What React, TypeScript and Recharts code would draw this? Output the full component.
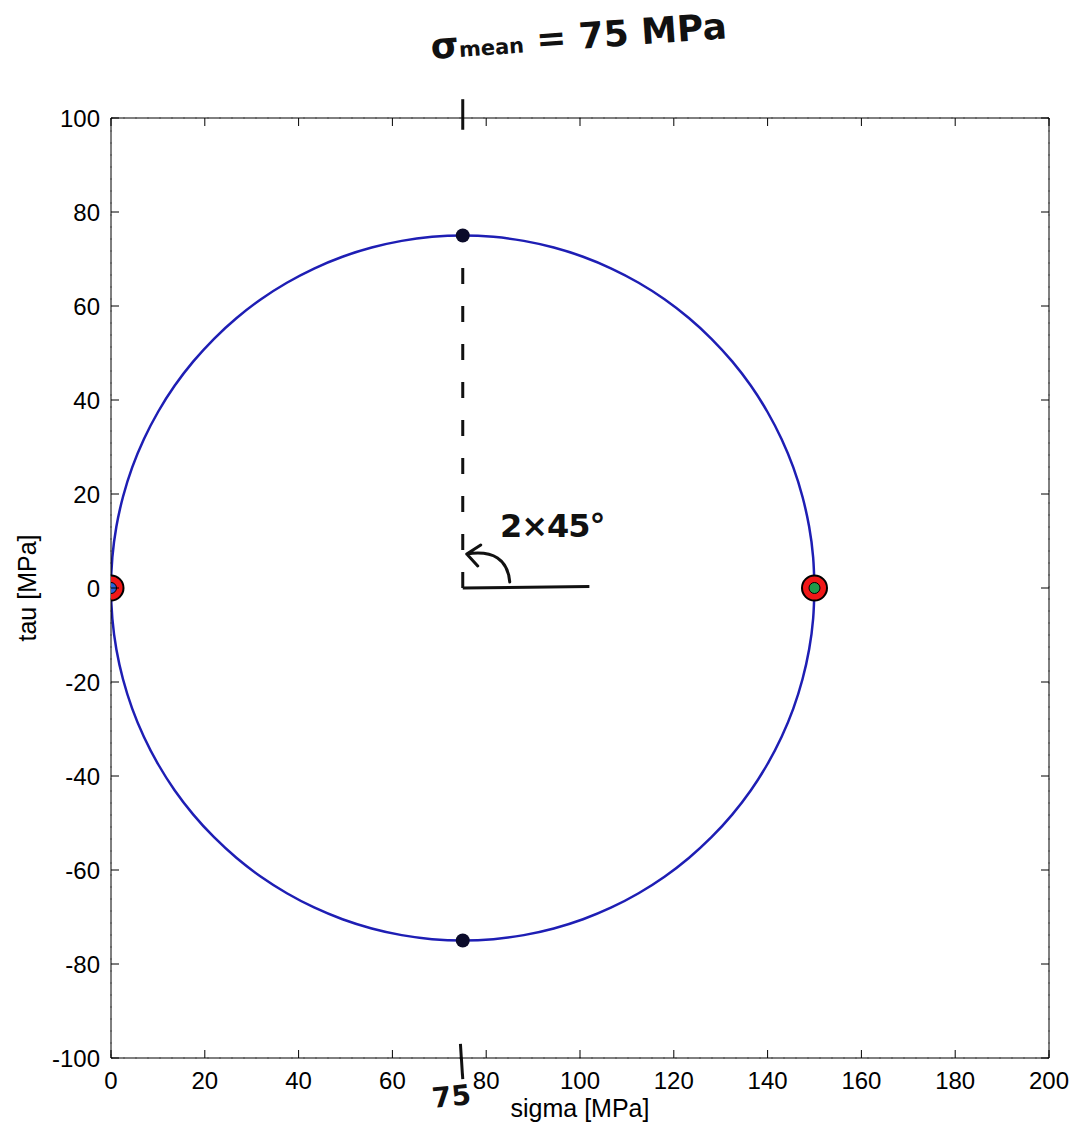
import React from "react";
import {
  ComposedChart,
  Scatter,
  Line,
  XAxis,
  YAxis,
  CartesianGrid,
  ReferenceLine,
  ReferenceDot,
} from "recharts";

// axis ticks
const sigmaTicks = [0, 20, 40, 60, 80, 100, 120, 140, 160, 180, 200];
const tauTicks = [-100, -80, -60, -40, -20, 0, 20, 40, 60, 80, 100];

// Mohr circle, read every 5 degrees round the centre (75, 0), radius 75
const circleSigma = [
  150, 149.71, 148.86, 147.44, 145.48, 142.97, 139.95, 136.44, 132.45, 128.03,
  123.21, 118.02, 112.5, 106.7, 100.65, 94.41, 88.02, 81.54, 75,
  68.46, 61.98, 55.59, 49.35, 43.3, 37.5, 31.98, 26.79, 21.97, 17.55,
  13.56, 10.05, 7.03, 4.52, 2.56, 1.14, 0.29, 0,
  0.29, 1.14, 2.56, 4.52, 7.03, 10.05, 13.56, 17.55, 21.97, 26.79,
  31.98, 37.5, 43.3, 49.35, 55.59, 61.98, 68.46, 75,
  81.54, 88.02, 94.41, 100.65, 106.7, 112.5, 118.02, 123.21, 128.03, 132.45,
  136.44, 139.95, 142.97, 145.48, 147.44, 148.86, 149.71, 150,
];
const circleTau = [
  0, 6.54, 13.02, 19.41, 25.65, 31.7, 37.5, 43.02, 48.21, 53.03,
  57.45, 61.44, 64.95, 67.97, 70.48, 72.44, 73.86, 74.71, 75,
  74.71, 73.86, 72.44, 70.48, 67.97, 64.95, 61.44, 57.45, 53.03, 48.21,
  43.02, 37.5, 31.7, 25.65, 19.41, 13.02, 6.54, 0,
  -6.54, -13.02, -19.41, -25.65, -31.7, -37.5, -43.02, -48.21, -53.03, -57.45,
  -61.44, -64.95, -67.97, -70.48, -72.44, -73.86, -74.71, -75,
  -74.71, -73.86, -72.44, -70.48, -67.97, -64.95, -61.44, -57.45, -53.03, -48.21,
  -43.02, -37.5, -31.7, -25.65, -19.41, -13.02, -6.54, 0,
];

// principal stresses and max shear points
const principalSigma = [0, 150];
const principalTau = [0, 0];
const principalCore = ["#2a63d8", "#1f9a4a"];
const shearSigma = [75, 75];
const shearTau = [75, -75];

// hand-drawn marks
const meanSigma = 75;
const dashTop = 69;
const armEnd = 102;

const circleData = circleSigma.map((s, i) => ({ sigma: s, tau: circleTau[i] }));
const principalData = principalSigma.map((s, i) => ({
  sigma: s,
  tau: principalTau[i],
  core: principalCore[i],
}));
const shearData = shearSigma.map((s, i) => ({ sigma: s, tau: shearTau[i] }));

const FONT = "'Liberation Sans', Arial, sans-serif";
const HAND = "'DejaVu Sans', sans-serif";
const TICK = 8;

function BottomTick(props: any) {
  const { x, y, payload } = props;
  return (
    <g>
      <line x1={x} x2={x} y1={y - 12} y2={y - 12 - TICK} stroke="#000" />
      <text x={x} y={y} dy="0.8em" textAnchor="middle" fontSize={24} fontFamily={FONT} fill="#000">
        {payload.value}
      </text>
    </g>
  );
}

function LeftTick(props: any) {
  const { x, y, payload } = props;
  return (
    <g>
      <line x1={x + 11} x2={x + 11 + TICK} y1={y} y2={y} stroke="#000" />
      <text x={x} y={y} dy="0.36em" textAnchor="end" fontSize={24} fontFamily={FONT} fill="#000">
        {payload.value}
      </text>
    </g>
  );
}

function TopTick(props: any) {
  const { x, y } = props;
  return <line x1={x} x2={x} y1={y} y2={y + TICK} stroke="#000" />;
}

function RightTick(props: any) {
  const { x, y } = props;
  return <line x1={x} x2={x - TICK} y1={y} y2={y} stroke="#000" />;
}

function PrincipalDot(props: any) {
  const { cx, cy, payload } = props;
  return (
    <g>
      <circle cx={cx} cy={cy} r={12.5} fill="#f01818" stroke="#000" strokeWidth={2} />
      <circle cx={cx} cy={cy} r={5.5} fill={payload.core} stroke="#000" strokeWidth={1} />
    </g>
  );
}

function ShearDot(props: any) {
  const { cx, cy } = props;
  return <circle cx={cx} cy={cy} r={7} fill="#0b0b2a" />;
}

function AngleArrow(props: any) {
  const { cx, cy } = props;
  return (
    <path
      d={`M ${cx + 47} ${cy - 6} Q ${cx + 44} ${cy - 40} ${cx + 4} ${cy - 34} M ${cx + 4} ${cy - 34} L ${cx + 18} ${cy - 43} M ${cx + 4} ${cy - 34} L ${cx + 15} ${cy - 22}`}
      fill="none"
      stroke="#111"
      strokeWidth={3}
      strokeLinecap="round"
    />
  );
}

export default function App() {
  return (
    <div style={{ position: "absolute", left: 0, top: 0, width: 1080, height: 1137, background: "#fff" }}>
      <ComposedChart
        width={1080}
        height={1137}
        margin={{ top: 108, right: 21, bottom: 29, left: 11 }}
      >
        <CartesianGrid stroke="#9a9a9a" strokeDasharray="2 10" />
        <XAxis
          xAxisId="b"
          type="number"
          dataKey="sigma"
          domain={[0, 200]}
          ticks={sigmaTicks}
          height={50}
          tickSize={0}
          tickMargin={12}
          tick={<BottomTick />}
          tickLine={false}
          axisLine={{ stroke: "#000" }}
          allowDataOverflow
          label={{
            value: "sigma [MPa]",
            position: "bottom",
            offset: -9,
            fontSize: 25,
            fontFamily: FONT,
            fill: "#000",
          }}
        />
        <XAxis
          xAxisId="t"
          orientation="top"
          type="number"
          dataKey="sigma"
          domain={[0, 200]}
          ticks={sigmaTicks}
          height={10}
          tickSize={0}
          tickMargin={0}
          tick={<TopTick />}
          tickLine={false}
          axisLine={{ stroke: "#000" }}
          allowDataOverflow
        />
        <YAxis
          yAxisId="l"
          type="number"
          dataKey="tau"
          domain={[-100, 100]}
          ticks={tauTicks}
          width={100}
          tickSize={0}
          tickMargin={11}
          tick={<LeftTick />}
          tickLine={false}
          axisLine={{ stroke: "#000" }}
          allowDataOverflow
          label={{
            content: (p: any) => {
              const vb = p.viewBox;
              const lx = vb.x + 16;
              const ly = vb.y + vb.height / 2;
              return (
                <text
                  x={lx}
                  y={ly}
                  transform={`rotate(-90, ${lx}, ${ly})`}
                  textAnchor="middle"
                  dominantBaseline="central"
                  fontSize={25}
                  fontFamily={FONT}
                  fill="#000"
                >
                  tau [MPa]
                </text>
              );
            },
          }}
        />
        <YAxis
          yAxisId="r"
          orientation="right"
          type="number"
          dataKey="tau"
          domain={[-100, 100]}
          ticks={tauTicks}
          width={10}
          tickSize={0}
          tickMargin={0}
          tick={<RightTick />}
          tickLine={false}
          axisLine={{ stroke: "#000" }}
          allowDataOverflow
        />

        {/* hand-drawn construction lines */}
        <ReferenceLine
          xAxisId="b"
          yAxisId="l"
          segment={[{ x: meanSigma, y: 0 }, { x: meanSigma, y: dashTop }]}
          stroke="#111"
          strokeWidth={3}
          strokeDasharray="16 22"
          ifOverflow="visible"
        />
        <ReferenceLine
          xAxisId="b"
          yAxisId="l"
          segment={[{ x: meanSigma, y: 0 }, { x: armEnd, y: 0.3 }]}
          stroke="#111"
          strokeWidth={3}
          ifOverflow="visible"
        />
        <ReferenceLine
          xAxisId="b"
          yAxisId="l"
          segment={[{ x: meanSigma, y: 104 }, { x: meanSigma, y: 97.5 }]}
          stroke="#111"
          strokeWidth={3}
          ifOverflow="visible"
        />
        <ReferenceLine
          xAxisId="b"
          yAxisId="l"
          segment={[{ x: meanSigma - 0.5, y: -97 }, { x: meanSigma, y: -104.5 }]}
          stroke="#111"
          strokeWidth={3}
          ifOverflow="visible"
        />
        <ReferenceDot
          xAxisId="b"
          yAxisId="l"
          x={meanSigma}
          y={0}
          r={0}
          shape={<AngleArrow />}
          ifOverflow="visible"
        />

        <Line
          xAxisId="b"
          yAxisId="l"
          data={circleData}
          dataKey="tau"
          type="natural"
          stroke="#1e1eb4"
          strokeWidth={2.5}
          dot={false}
          activeDot={false}
          isAnimationActive={false}
        />
        <Scatter
          xAxisId="b"
          yAxisId="l"
          data={shearData}
          dataKey="tau"
          shape={<ShearDot />}
          isAnimationActive={false}
        />
        <Scatter
          xAxisId="b"
          yAxisId="l"
          data={principalData}
          dataKey="tau"
          shape={<PrincipalDot />}
          isAnimationActive={false}
        />
      </ComposedChart>

      {/* handwritten notes */}
      <div
        style={{
          position: "absolute",
          left: 432,
          top: 26,
          fontFamily: HAND,
          fontSize: 36,
          fontWeight: 600,
          color: "#111",
          transform: "rotate(-4deg)",
          transformOrigin: "left bottom",
          whiteSpace: "nowrap",
        }}
      >
        σ<span style={{ fontSize: 21 }}>mean</span> = 75 MPa
      </div>
      <div
        style={{
          position: "absolute",
          left: 500,
          top: 507,
          fontFamily: HAND,
          fontSize: 32,
          fontWeight: 600,
          letterSpacing: -1,
          color: "#111",
          whiteSpace: "nowrap",
        }}
      >
        2×45°
      </div>
      <div
        style={{
          position: "absolute",
          left: 432,
          top: 1080,
          fontFamily: HAND,
          fontSize: 28,
          fontWeight: 600,
          color: "#111",
          transform: "rotate(-6deg)",
          whiteSpace: "nowrap",
        }}
      >
        75
      </div>
    </div>
  );
}
